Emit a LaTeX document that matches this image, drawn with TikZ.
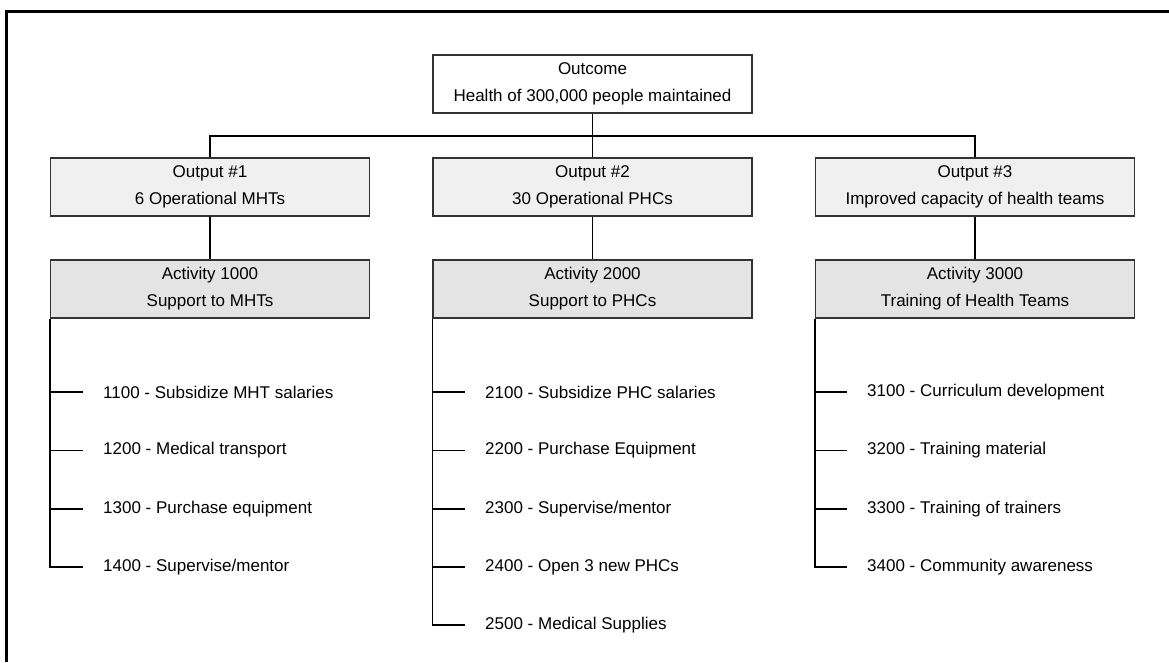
\documentclass[tikz,border=0pt]{standalone}
\usepackage{fontspec}
\setmainfont{Liberation Sans}
\usepackage{tikz}

\definecolor{outfill}{HTML}{F0F0F0}
\definecolor{actfill}{HTML}{E4E4E4}
\definecolor{boxline}{HTML}{333333}

\tikzset{
	box/.style={shape=rectangle,draw=boxline,line width=1.5pt,minimum width=319pt,minimum height=58pt,
		align=center,font=\fontsize{17}{27}\selectfont},
	outbox/.style={box,fill=outfill},
	actbox/.style={box,fill=actfill},
	item/.style={anchor=west,inner xsep=20pt,inner ysep=0pt,font=\fontsize{17}{20}\selectfont},
	link/.style={draw=black,line width=1.5pt}
}

\begin{document}
\begin{tikzpicture}[x=1pt,y=-1pt]

	\useasboundingbox (0,0) rectangle (1169,662);
	\draw[line width=3pt] (6.5,662) -- (6.5,11.5) -- (1169,11.5);

	\node[box,fill=white] (outcome) at (592.5, 84)  {Outcome\\Health of 300,000 people maintained};
	\coordinate (bus) at (592.5, 136);

	\node[outbox] (out1) at (210, 187)   {Output \#1\\6 Operational MHTs};
	\node[outbox] (out2) at (592.5, 187) {Output \#2\\30 Operational PHCs};
	\node[outbox] (out3) at (975, 187)   {Output \#3\\Improved capacity of health teams};

	\node[actbox] (act1) at (210, 289)   {Activity 1000\\Support to MHTs};
	\node[actbox] (act2) at (592.5, 289) {Activity 2000\\Support to PHCs};
	\node[actbox] (act3) at (975, 289)   {Activity 3000\\Training of Health Teams};

	% activities under output 1
	\node[item] (a1100) at (83, 392)   {1100 - Subsidize MHT salaries};
	\node[item] (a1200) at (83, 450.5) {1200 - Medical transport};
	\node[item] (a1300) at (83, 509)   {1300 - Purchase equipment};
	\node[item] (a1400) at (83, 567)   {1400 - Supervise/mentor};

	% activities under output 2
	\node[item] (a2100) at (465, 392)   {2100 - Subsidize PHC salaries};
	\node[item] (a2200) at (465, 450.5) {2200 - Purchase Equipment};
	\node[item] (a2300) at (465, 509)   {2300 - Supervise/mentor};
	\node[item] (a2400) at (465, 567)   {2400 - Open 3 new PHCs};
	\node[item] (a2500) at (465, 625)   {2500 - Medical Supplies};

	% activities under output 3
	\node[item] (a3100) at (847, 392)   {3100 - Curriculum development};
	\node[item] (a3200) at (847, 450.5) {3200 - Training material};
	\node[item] (a3300) at (847, 509)   {3300 - Training of trainers};
	\node[item] (a3400) at (847, 567)   {3400 - Community awareness};

	\path[link] (outcome) -- (bus);
	\path[link] (bus) -| (out1.north);
	\path[link] (bus) -- (out2.north);
	\path[link] (bus) -| (out3.north);
	\path[link] (out1) -- (act1);
	\path[link] (out2) -- (act2);
	\path[link] (out3) -- (act3);

	\path[link] (act1.south west) |- (a1400.west);
	\path[link] (a1100.west -| act1.west) -- (a1100.west);
	\path[link] (a1200.west -| act1.west) -- (a1200.west);
	\path[link] (a1300.west -| act1.west) -- (a1300.west);

	\path[link] (act2.south west) |- (a2500.west);
	\path[link] (a2100.west -| act2.west) -- (a2100.west);
	\path[link] (a2200.west -| act2.west) -- (a2200.west);
	\path[link] (a2300.west -| act2.west) -- (a2300.west);
	\path[link] (a2400.west -| act2.west) -- (a2400.west);

	\path[link] (act3.south west) |- (a3400.west);
	\path[link] (a3100.west -| act3.west) -- (a3100.west);
	\path[link] (a3200.west -| act3.west) -- (a3200.west);
	\path[link] (a3300.west -| act3.west) -- (a3300.west);

\end{tikzpicture}
\end{document}
